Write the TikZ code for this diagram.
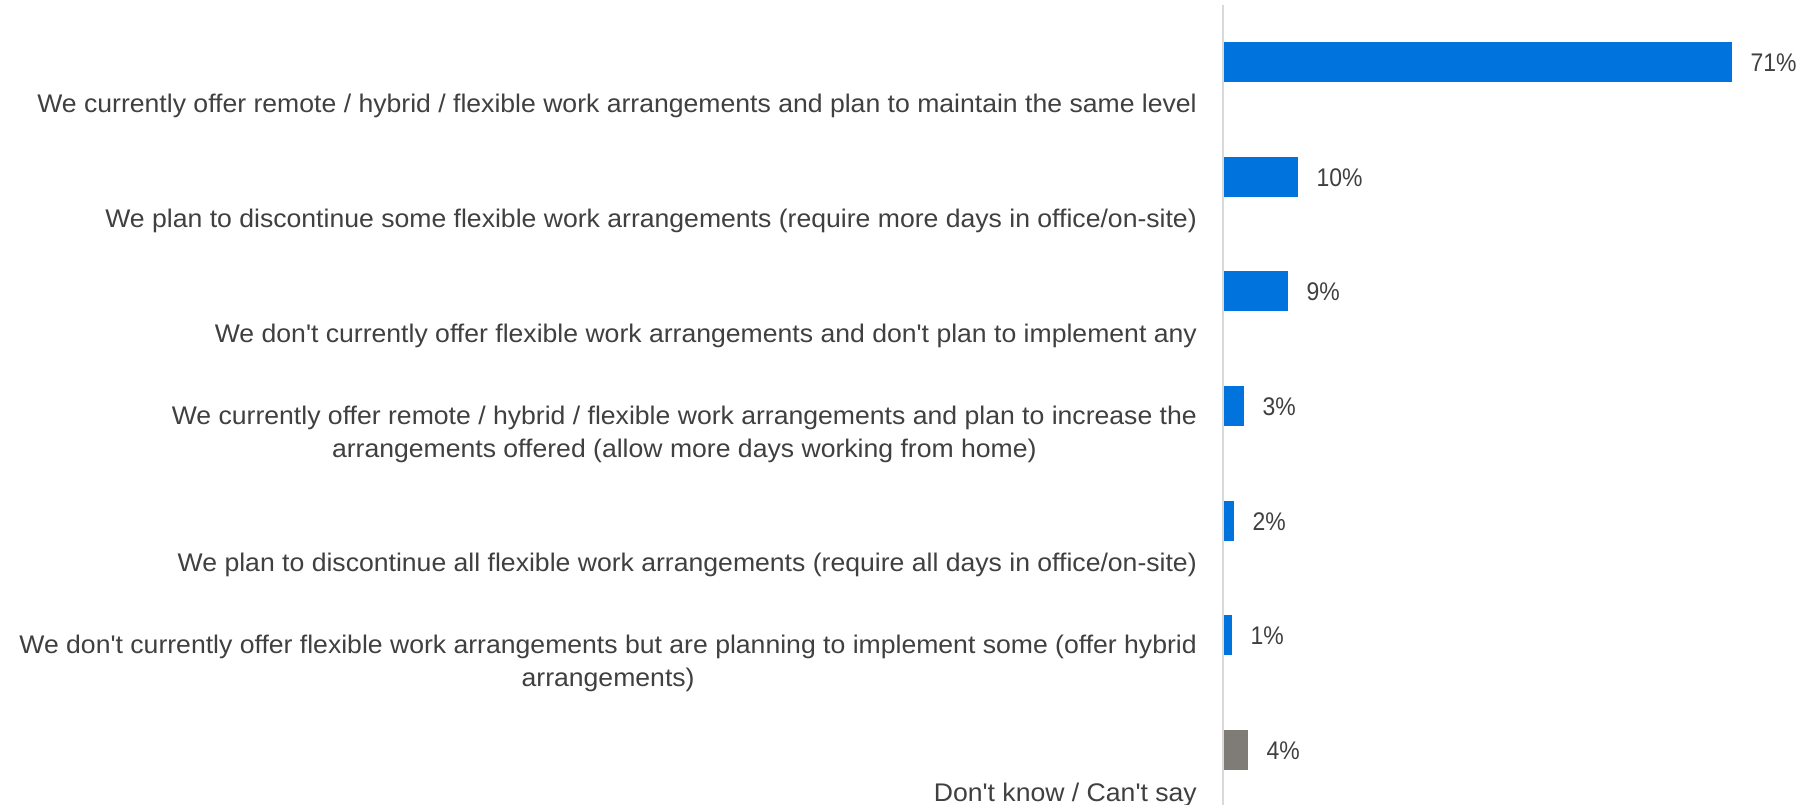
\documentclass[tikz,border=0pt]{standalone}
\usepackage{fontspec}
\setmainfont{Liberation Sans}
\newfontfamily\labfont{Liberation Sans}[FakeStretch=1.043, Ligatures=TeXOff]
\newfontfamily\pctfont{Liberation Sans}[FakeStretch=0.9]
\definecolor{barblue}{HTML}{0073DD}
\definecolor{bargray}{HTML}{7F7C78}
\definecolor{txt}{HTML}{404040}
\definecolor{axisgray}{HTML}{D9D9D9}
\tikzset{
  catlabel/.style={anchor=base east, align=center, inner sep=0pt,
    font=\labfont\fontsize{25.5}{32.5}\selectfont, text=txt},
  pct/.style={anchor=base west, inner sep=0pt,
    font=\pctfont\fontsize{25.5}{30}\selectfont, text=txt},
  barbox/.style={anchor=west, draw=none, inner sep=0pt, minimum height=40pt},
  bluebar/.style={barbox, fill=barblue},
  graybar/.style={barbox, fill=bargray},
}
\begin{document}
\begin{tikzpicture}[x=1pt,y=-1pt]
\useasboundingbox (0,0) rectangle (1804,805);
\fill[white] (0,0) rectangle (1804,805);
% axis
\coordinate (axtop) at (1223,5);
\coordinate (axbot) at (1223,805);
\draw[axisgray, line width=2pt] (axtop) -- (axbot);
% bars
\node[bluebar, minimum width=508pt] (b1) at (1224,62) {};
\node[bluebar, minimum width=74pt]  (b2) at (1224,176.7) {};
\node[bluebar, minimum width=64pt]  (b3) at (1224,291.3) {};
\node[bluebar, minimum width=20pt]  (b4) at (1224,406) {};
\node[bluebar, minimum width=10pt]  (b5) at (1224,520.7) {};
\node[bluebar, minimum width=8pt]   (b6) at (1224,635.3) {};
\node[graybar, minimum width=24pt]  (b7) at (1224,750) {};
% values
\node[pct] (p1) at ([xshift=18pt,yshift=-9.5pt]b1.east) {71\%};
\node[pct] (p2) at ([xshift=18pt,yshift=-9.5pt]b2.east) {10\%};
\node[pct] (p3) at ([xshift=18pt,yshift=-9.5pt]b3.east) {9\%};
\node[pct] (p4) at ([xshift=18pt,yshift=-9.5pt]b4.east) {3\%};
\node[pct] (p5) at ([xshift=18pt,yshift=-9.5pt]b5.east) {2\%};
\node[pct] (p6) at ([xshift=18pt,yshift=-9.5pt]b6.east) {1\%};
\node[pct] (p7) at ([xshift=18pt,yshift=-9.5pt]b7.east) {4\%};
% category labels
\node[catlabel] (c1) at (1197,113) {We currently offer remote / hybrid / flexible work arrangements and plan to maintain the same level};
\node[catlabel] (c2) at (1197,227.7) {We plan to discontinue some flexible work arrangements (require more days in office/on-site)};
\node[catlabel] (c3) at (1197,342.3) {We don't currently offer flexible work arrangements and don't plan to implement any};
\node[catlabel] (c4) at (1197,457) {We currently offer remote / hybrid / flexible work arrangements and plan to increase the\\arrangements offered (allow more days working from home)};
\node[catlabel] (c5) at (1197,571.7) {We plan to discontinue all flexible work arrangements (require all days in office/on-site)};
\node[catlabel] (c6) at (1197,686.3) {We don't currently offer flexible work arrangements but are planning to implement some (offer hybrid\\arrangements)};
\node[catlabel] (c7) at (1197,801) {Don't know / Can't say};
\end{tikzpicture}
\end{document}
